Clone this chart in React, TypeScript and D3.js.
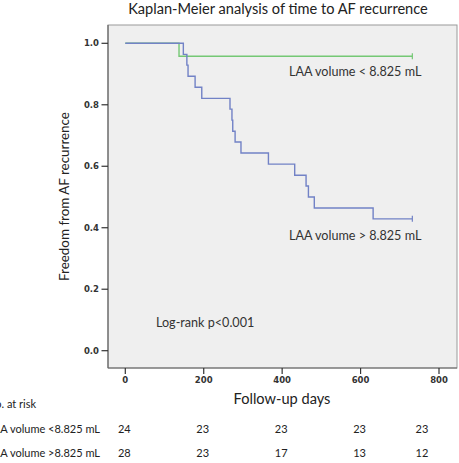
import React from "react";
import * as d3 from "d3";

const groupLow = "LAA volume < 8.825 mL";
const groupHigh = "LAA volume > 8.825 mL";
const lowTimes = [0, 137];
const lowSurv = [1.0, 0.958];
const highTimes = [0, 148, 157, 160, 178, 195, 267, 272, 274, 280, 295, 365, 432, 461, 467, 482, 632];
const highSurv = [1.0, 0.964, 0.929, 0.893, 0.857, 0.821, 0.786, 0.75, 0.714, 0.679, 0.643, 0.607, 0.571, 0.536, 0.5, 0.464, 0.429];
const lastFollowUp = 732;
const xTicks = [0, 200, 400, 600, 800];
const yTicks = [0.0, 0.2, 0.4, 0.6, 0.8, 1.0];
const riskLabels = ["LAA volume <8.825 mL", "LAA volume >8.825 mL"];
const riskLow = [24, 23, 23, 23, 23];
const riskHigh = [28, 23, 17, 13, 12];

const W = 459, H = 463;
const frame = { left: 108, right: 457, top: 25, bottom: 368 };
const GREEN = "#74c874";
const BLUE = "#7282c6";
const FONT = "Lato, 'Open Sans', sans-serif";

export default function App() {
  const x = d3.scaleLinear().domain([0, 800]).range([125.3, 439]);
  const y = d3.scaleLinear().domain([0, 1]).range([350.7, 43.3]);
  const line = d3
    .line<[number, number]>()
    .x((d) => x(d[0]))
    .y((d) => y(d[1]))
    .curve(d3.curveStepAfter);
  const mk = (t: number[], s: number[]) => {
    const pts: [number, number][] = t.map((v, i) => [v, s[i]]);
    pts.push([lastFollowUp, s[s.length - 1]]);
    return pts;
  };
  const lowPts = mk(lowTimes, lowSurv);
  const highPts = mk(highTimes, highSurv);
  const tableX = (d: number) => Math.min(x(d) - 1, 422);

  return (
    <svg width={W} height={H} style={{ position: "absolute", left: 0, top: 0 }}>
      <rect x={0} y={0} width={W} height={H} fill="#ffffff" />
      <text x={278} y={13.5} textAnchor="middle" fontFamily={FONT} fontSize={14.6} fill="#222">
        Kaplan-Meier analysis of time to AF recurrence
      </text>
      <rect
        x={frame.left}
        y={frame.top}
        width={frame.right - frame.left}
        height={frame.bottom - frame.top}
        fill="#efefef"
        stroke="#9a9a9a"
        strokeWidth={1}
      />
      <line x1={frame.left} x2={frame.left} y1={frame.top} y2={frame.bottom} stroke="#666" strokeWidth={1.2} />
      <line x1={frame.left} x2={frame.right} y1={frame.bottom} y2={frame.bottom} stroke="#666" strokeWidth={1.2} />
      {yTicks.map((t) => (
        <g key={"y" + t}>
          <line x1={101.5} x2={frame.left} y1={y(t)} y2={y(t)} stroke="#333" strokeWidth={1.2} />
          <text x={99} y={y(t) + 3} textAnchor="end" fontFamily="'DejaVu Sans', sans-serif" fontWeight="bold" fontSize={8.5} fill="#333">
            {t.toFixed(1)}
          </text>
        </g>
      ))}
      {xTicks.map((t) => (
        <g key={"x" + t}>
          <line x1={x(t)} x2={x(t)} y1={frame.bottom} y2={frame.bottom + 6} stroke="#333" strokeWidth={1.2} />
          <text x={x(t)} y={383} textAnchor="middle" fontFamily="'DejaVu Sans', sans-serif" fontWeight="bold" fontSize={8.5} fill="#333">
            {t}
          </text>
        </g>
      ))}
      <path d={line(lowPts) || ""} fill="none" stroke={GREEN} strokeWidth={1.4} />
      <path d={line(highPts) || ""} fill="none" stroke={BLUE} strokeWidth={1.4} />
      <line x1={x(lastFollowUp)} x2={x(lastFollowUp)} y1={y(lowSurv[lowSurv.length - 1]) - 3} y2={y(lowSurv[lowSurv.length - 1]) + 3} stroke={GREEN} strokeWidth={1.2} />
      <line x1={x(lastFollowUp)} x2={x(lastFollowUp)} y1={y(highSurv[highSurv.length - 1]) - 3} y2={y(highSurv[highSurv.length - 1]) + 3} stroke={BLUE} strokeWidth={1.2} />
      <text x={289} y={76} fontFamily={FONT} fontSize={12.6} fill="#333">{groupLow}</text>
      <text x={289} y={240} fontFamily={FONT} fontSize={12.6} fill="#333">{groupHigh}</text>
      <text x={156} y={327} fontFamily={FONT} fontSize={12.6} fill="#333">Log-rank p&lt;0.001</text>
      <text
        transform={`translate(69,${196.5}) rotate(-90)`}
        textAnchor="middle"
        fontFamily={FONT}
        fontSize={13.4}
        fill="#222"
      >
        Freedom from AF recurrence
      </text>
      <text x={282} y={404} textAnchor="middle" fontFamily={FONT} fontSize={14.6} fill="#222">
        Follow-up days
      </text>
      <text x={-13} y={408} fontFamily={FONT} fontSize={11} fill="#222">No. at risk</text>
      <text x={100} y={433} textAnchor="end" fontFamily={FONT} fontSize={11} fill="#222">{riskLabels[0]}</text>
      <text x={100} y={457} textAnchor="end" fontFamily={FONT} fontSize={11} fill="#222">{riskLabels[1]}</text>
      {xTicks.map((t, i) => (
        <g key={"r" + t}>
          <text x={tableX(t)} y={433} textAnchor="middle" fontFamily={FONT} fontSize={11} fill="#222">{riskLow[i]}</text>
          <text x={tableX(t)} y={457} textAnchor="middle" fontFamily={FONT} fontSize={11} fill="#222">{riskHigh[i]}</text>
        </g>
      ))}
    </svg>
  );
}
